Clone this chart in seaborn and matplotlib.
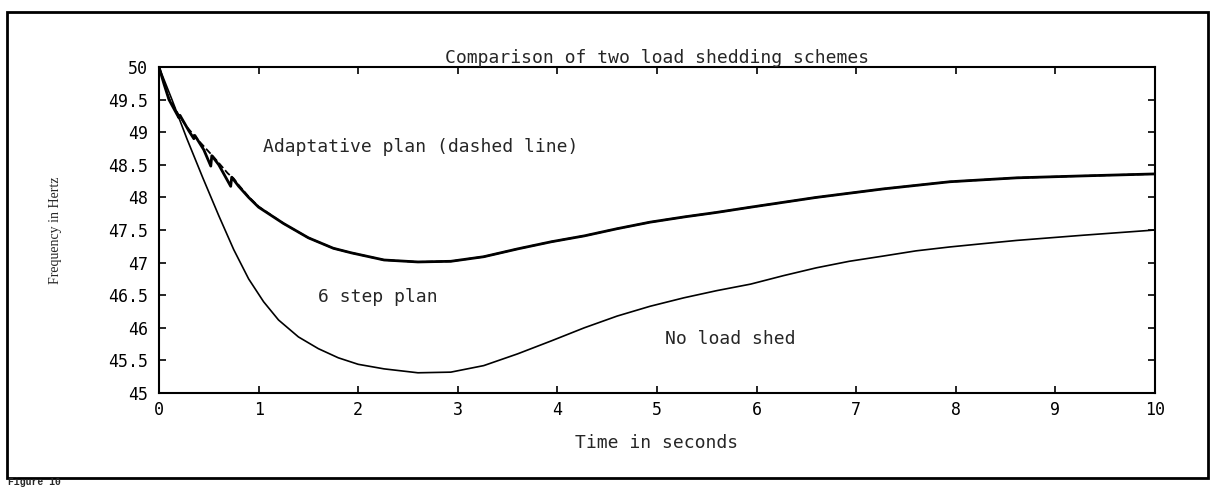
import numpy as np
import pandas as pd
import matplotlib
matplotlib.use("Agg")
import matplotlib.pyplot as plt
import matplotlib.patches as mpatches
import seaborn as sns

# ---- data ----
title = "Comparison of two load shedding schemes"
x_label = "Time in seconds"
y_label = "Frequency in Hertz"
x_ticks = [0, 1, 2, 3, 4, 5, 6, 7, 8, 9, 10]
y_ticks = [45, 45.5, 46, 46.5, 47, 47.5, 48, 48.5, 49, 49.5, 50]
y_tick_labels = ["45", "45.5", "46", "46.5", "47", "47.5", "48", "48.5", "49", "49.5", "50"]

# No load shed
noshed_t = [0, 0.13, 0.28, 0.44, 0.6, 0.75, 0.9, 1.05, 1.2, 1.4, 1.6, 1.8, 2.0, 2.26, 2.6, 2.93,
            3.26, 3.6, 3.94, 4.27, 4.6, 4.93, 5.27, 5.6, 5.94, 6.27, 6.6, 6.93, 7.27, 7.6, 7.94,
            8.27, 8.61, 9.28, 10]
noshed_v = [50, 49.5, 48.9, 48.3, 47.72, 47.2, 46.75, 46.4, 46.12, 45.86, 45.68, 45.54, 45.44,
            45.37, 45.31, 45.32, 45.42, 45.6, 45.8, 46.0, 46.18, 46.33, 46.46, 46.57, 46.67,
            46.8, 46.92, 47.02, 47.1, 47.18, 47.24, 47.29, 47.34, 47.42, 47.5]

# 6 step plan (solid, with step jumps)
six_t = [0, 0.05, 0.1, 0.2, 0.21, 0.3, 0.35, 0.36, 0.45, 0.52, 0.53, 0.6, 0.72, 0.73,
         0.8, 0.9, 1.0, 1.25, 1.5, 1.75, 1.93, 2.26, 2.6, 2.93, 3.26, 3.6, 3.94, 4.27, 4.6,
         4.93, 5.27, 5.6, 5.94, 6.6, 7.27, 7.94, 8.61, 9.28, 10]
six_v = [50, 49.74, 49.5, 49.22, 49.26, 49.02, 48.9, 48.95, 48.73, 48.48, 48.64, 48.5, 48.17, 48.31,
         48.17, 48.0, 47.85, 47.6, 47.38, 47.22, 47.15, 47.04, 47.01, 47.02, 47.09, 47.21, 47.32,
         47.41, 47.52, 47.62, 47.7, 47.77, 47.85, 48.0, 48.13, 48.24, 48.3, 48.33, 48.36]

# Adaptative plan (dashed)
adapt_t = [0, 0.1, 0.2, 0.28, 0.41, 0.56, 0.69, 0.75, 0.8, 0.9, 1.0, 1.25, 1.5, 1.75, 1.93, 2.26,
           2.6, 2.93, 3.26, 3.6, 3.94, 4.27, 4.6, 4.93, 5.27, 5.6, 5.94, 6.6, 7.27, 7.94, 8.61, 9.28, 10]
adapt_v = [50, 49.52, 49.26, 49.08, 48.85, 48.6, 48.37, 48.29, 48.19, 48.01, 47.86, 47.6, 47.38, 47.22,
           47.15, 47.04, 47.01, 47.02, 47.09, 47.21, 47.32, 47.41, 47.52, 47.62, 47.7, 47.77, 47.85,
           48.0, 48.13, 48.24, 48.3, 48.33, 48.36]

label_adapt = "Adaptative plan (dashed line)"
label_six = "6 step plan"
label_noshed = "No load shed"
fig_caption = "Figure 10"

# ---- plot ----
sns.set_style("ticks")
plt.rcParams["font.family"] = ["DejaVu Sans Mono", "DejaVu Sans"]

fig = plt.figure(figsize=(12.19, 4.88), dpi=100)
ax = fig.add_axes([159 / 1219, 1 - 393 / 488, (1155 - 159) / 1219, (393 - 67) / 488])

sns.lineplot(x=noshed_t, y=noshed_v, ax=ax, color="black", linewidth=1.2,
             estimator=None, sort=False)
sns.lineplot(x=six_t, y=six_v, ax=ax, color="black", linewidth=2.0,
             estimator=None, sort=False)
sns.lineplot(x=adapt_t, y=adapt_v, ax=ax, color="black", linewidth=1.3,
             linestyle="--", estimator=None, sort=False)

ax.set_xlim(0, 10)
ax.set_ylim(45, 50)
ax.set_xticks(x_ticks)
ax.set_xticklabels([str(v) for v in x_ticks])
ax.set_yticks(y_ticks)
ax.set_yticklabels(y_tick_labels)
ax.tick_params(direction="in", length=5, width=1.2, top=True, right=True,
               labelsize=12, colors="black")
ax.tick_params(axis="y", pad=8)
ax.tick_params(axis="x", pad=6)
for s in ax.spines.values():
    s.set_visible(True)
    s.set_color("black")
    s.set_linewidth(1.5)

ax.set_title(title, fontsize=13, pad=3)
ax.set_xlabel(x_label, fontsize=13)
ax.xaxis.set_label_coords(0.5, -0.125)
ax.set_ylabel(y_label, fontsize=10, family="Liberation Serif", va="center")
ax.yaxis.set_label_coords(-0.104, 0.5)

ax.text(1.04, 48.77, label_adapt, fontsize=13, ha="left", va="center")
ax.text(1.6, 46.48, label_six, fontsize=13, ha="left", va="center")
ax.text(5.08, 45.83, label_noshed, fontsize=13, ha="left", va="center")

# outer frame of the scanned figure
frame = mpatches.Rectangle((7 / 1219, 1 - 478 / 488), (1208 - 7) / 1219, (478 - 12) / 488,
                           transform=fig.transFigure, fill=False, edgecolor="black",
                           linewidth=2, clip_on=False)
fig.add_artist(frame)

fig.text(8 / 1219, 1 / 488, fig_caption, fontsize=7, fontweight="bold",
         family="Liberation Mono", ha="left", va="bottom")

fig.savefig("out.png", dpi=100)
